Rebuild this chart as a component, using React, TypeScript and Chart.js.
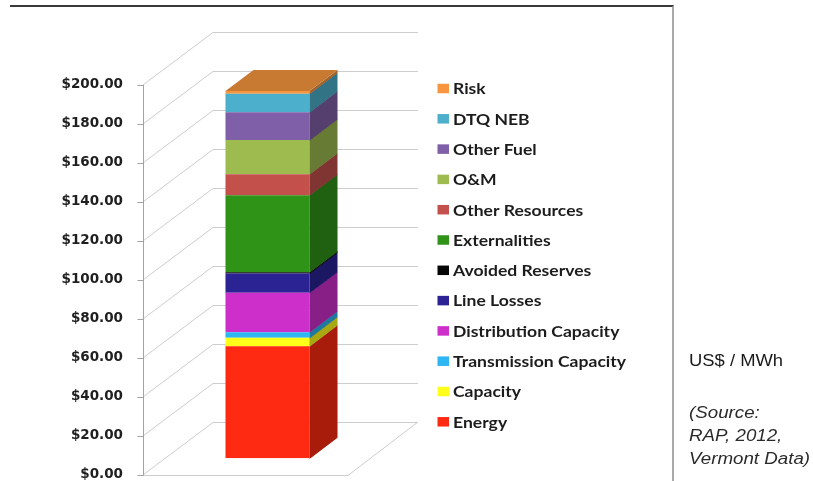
import React, { useEffect, useRef } from 'react';
import { Chart, registerables } from 'chart.js';

Chart.register(...registerables);

// Avoided-cost components, US$ / MWh (stacked bottom to top)
const categories = ['Vermont'];
const energy = [57.5];
const capacity = [4.3];
const transmissionCapacity = [2.9];
const distributionCapacity = [20.2];
const lineLosses = [9.9];
const avoidedReserves = [0.6];
const externalities = [39.5];
const otherResources = [10.8];
const operationsMaintenance = [17.5];
const otherFuel = [14.3];
const dtqNeb = [9.5];
const risk = [1.3];

const seriesLabels = [
  'Energy',
  'Capacity',
  'Transmission Capacity',
  'Distribution Capacity',
  'Line Losses',
  'Avoided Reserves',
  'Externalities',
  'Other Resources',
  'O&M',
  'Other Fuel',
  'DTQ NEB',
  'Risk',
];
const seriesValues = [
  energy,
  capacity,
  transmissionCapacity,
  distributionCapacity,
  lineLosses,
  avoidedReserves,
  externalities,
  otherResources,
  operationsMaintenance,
  otherFuel,
  dtqNeb,
  risk,
];

// value axis
const yMin = 0;
const yMax = 200;
const yStep = 20;

const seriesColors = [
  '#FF2A12',
  '#FFFF1A',
  '#2DB6F2',
  '#CD2FCB',
  '#2B2394',
  '#050505',
  '#2F9318',
  '#C4504C',
  '#9DBB4F',
  '#7F5FA8',
  '#4CAFCB',
  '#F7963F',
];

// oblique 3-D projection of the plot box
const WALL_DX = 70; // horizontal run of the floor depth
const WALL_DY = 53; // vertical rise of the floor depth
const BAR_Z0 = 0.315; // depth of the column's front face (0 = front, 1 = back wall)
const BAR_Z1 = 0.715; // depth of the column's back face
const GRID_COLOR = '#cdcdcd';
const AXIS_COLOR = '#a3a3a3';

function shade(hex: string, f: number): string {
  const n = parseInt(hex.slice(1), 16);
  const r = Math.round(((n >> 16) & 255) * f);
  const g = Math.round(((n >> 8) & 255) * f);
  const b = Math.round((n & 255) * f);
  return `rgb(${r},${g},${b})`;
}

function polyline(ctx: CanvasRenderingContext2D, pts: number[][]) {
  ctx.beginPath();
  ctx.moveTo(pts[0][0], pts[0][1]);
  for (let i = 1; i < pts.length; i++) ctx.lineTo(pts[i][0], pts[i][1]);
  ctx.stroke();
}

function fillPoly(ctx: CanvasRenderingContext2D, pts: number[][]) {
  ctx.beginPath();
  ctx.moveTo(pts[0][0], pts[0][1]);
  for (let i = 1; i < pts.length; i++) ctx.lineTo(pts[i][0], pts[i][1]);
  ctx.closePath();
  ctx.fill();
}

const box3d = {
  id: 'box3d',
  beforeDatasetsDraw(chart: any) {
    const { ctx, chartArea } = chart;
    const ys = chart.scales.y;
    const L = chartArea.left;
    const R = chartArea.right;
    const P = (x: number, v: number, z: number) => [
      x + (z - BAR_Z0) * WALL_DX,
      ys.getPixelForValue(v) - (z - BAR_Z0) * WALL_DY,
    ];
    ctx.save();
    ctx.lineWidth = 1;
    ctx.strokeStyle = GRID_COLOR;
    const values: number[] = ys.ticks.map((t: any) => t.value);
    for (const v of values) {
      const a = P(L, v, 0);
      const b = P(L, v, 1);
      const c = P(R, v, 1);
      const yb = Math.round(b[1]) + 0.5;
      polyline(ctx, [a, [b[0], yb], [c[0], yb]]);
    }
    // floor: front and right edges
    const f0 = P(L, yMin, 0);
    const f1 = P(R, yMin, 0);
    const f2 = P(R, yMin, 1);
    const fy = Math.round(f0[1]) + 0.5;
    polyline(ctx, [[f0[0], fy], [f1[0], fy], f2]);
    // front value axis with tick marks
    ctx.strokeStyle = AXIS_COLOR;
    const ax = Math.round(f0[0]) + 0.5;
    const top = P(L, yMax, 0);
    polyline(ctx, [[ax, top[1]], [ax, fy]]);
    for (const v of values) {
      const p = P(L, v, 0);
      const ty = Math.round(p[1]) + 0.5;
      polyline(ctx, [[ax - 6, ty], [ax, ty]]);
    }
    ctx.restore();
  },
  afterDatasetsDraw(chart: any) {
    const { ctx } = chart;
    const bdx = (BAR_Z1 - BAR_Z0) * WALL_DX;
    const bdy = (BAR_Z1 - BAR_Z0) * WALL_DY;
    const datasets = chart.data.datasets;
    ctx.save();
    let topEl: any = null;
    let topColor = '';
    datasets.forEach((ds: any, i: number) => {
      const meta = chart.getDatasetMeta(i);
      if (meta.hidden) return;
      meta.data.forEach((el: any) => {
        const { x, y, base, width } = el.getProps(['x', 'y', 'base', 'width'], true);
        const right = x + width / 2;
        const t = Math.min(y, base);
        const b = Math.max(y, base);
        if (b - t <= 0) return;
        ctx.fillStyle = shade(ds.backgroundColor, 0.66);
        fillPoly(ctx, [
          [right, t],
          [right + bdx, t - bdy],
          [right + bdx, b - bdy + 0.6],
          [right, b + 0.6],
        ]);
        topEl = { x, y: t, width };
        topColor = ds.backgroundColor;
      });
    });
    if (topEl) {
      const left = topEl.x - topEl.width / 2;
      const right = topEl.x + topEl.width / 2;
      ctx.fillStyle = shade(topColor, 0.81);
      fillPoly(ctx, [
        [left, topEl.y],
        [left + bdx, topEl.y - bdy],
        [right + bdx, topEl.y - bdy],
        [right, topEl.y],
      ]);
    }
    ctx.restore();
  },
  afterDraw(chart: any) {
    // legend, top series first
    const { ctx } = chart;
    const datasets = chart.data.datasets;
    const n = datasets.length;
    ctx.save();
    for (let r = 0; r < n; r++) {
      const ds = datasets[n - 1 - r];
      const yc = 88.5 + r * 30.3;
      ctx.fillStyle = ds.backgroundColor;
      ctx.fillRect(437.5, yc - 4.75, 11.5, 9.5);
      ctx.save();
      ctx.translate(453, yc);
      ctx.scale(1.17, 1);
      ctx.font = 'bold 15px Lato';
      ctx.fillStyle = '#1c1c1c';
      ctx.textBaseline = 'middle';
      ctx.textAlign = 'left';
      ctx.fillText(ds.label, 0, 1);
      ctx.restore();
    }
    ctx.restore();
  },
};

export default function App() {
  const canvasRef = useRef<HTMLCanvasElement>(null);

  useEffect(() => {
    const canvas = canvasRef.current;
    if (!canvas) return;
    const chart = new Chart(canvas, {
      type: 'bar',
      data: {
        labels: categories,
        datasets: seriesValues.map((data, i) => ({
          label: seriesLabels[i],
          data,
          backgroundColor: seriesColors[i],
          borderWidth: 0,
          barPercentage: 0.41,
          categoryPercentage: 1,
        })),
      },
      options: {
        responsive: false,
        animation: false,
        devicePixelRatio: 1,
        layout: { padding: { left: 0, top: 68.3, right: 443, bottom: 22.7 } },
        scales: {
          x: { display: false, stacked: true },
          y: {
            stacked: true,
            min: yMin,
            max: yMax,
            // labels sit 42px left of the column plane (front wall position)
            grid: { display: false, drawTicks: true, tickLength: 42 },
            border: { display: false },
            ticks: {
              stepSize: yStep,
              padding: 0,
              labelOffset: BAR_Z0 * WALL_DY,
              color: '#1f1f1f',
              font: { family: 'DejaVu Sans', weight: 'bold', size: 13.5 },
              callback: (v: any) => '$' + Number(v).toFixed(2),
            },
            afterFit: (scale: any) => {
              scale.width = 165;
            },
          },
        },
        plugins: {
          legend: { display: false },
          tooltip: { enabled: false },
        },
      },
      plugins: [box3d],
    } as any);
    return () => chart.destroy();
  }, []);

  return (
    <div
      style={{
        position: 'fixed',
        left: 0,
        top: 0,
        width: 813,
        height: 481,
        overflow: 'hidden',
        background: '#ffffff',
      }}
    >
      <div
        style={{
          position: 'absolute',
          left: 10,
          top: 5,
          width: 662,
          height: 500,
          borderTop: '2px solid #3a3a3a',
          borderRight: '2px solid #a9a9a9',
        }}
      />
      <canvas
        ref={canvasRef}
        width={813}
        height={481}
        style={{ position: 'absolute', left: 0, top: 0, width: 813, height: 481 }}
      />
      <div
        style={{
          position: 'absolute',
          left: 689,
          top: 353,
          fontFamily: '"Liberation Sans", Arial, sans-serif',
          fontSize: 16,
          lineHeight: '16px',
          color: '#1a1a1a',
          whiteSpace: 'nowrap',
          transform: 'scaleX(1.15)',
          transformOrigin: 'left top',
        }}
      >
        US$ / MWh
      </div>
      <div
        style={{
          position: 'absolute',
          left: 689,
          top: 401,
          fontFamily: '"Liberation Sans", Arial, sans-serif',
          fontStyle: 'italic',
          fontSize: 16,
          lineHeight: '23px',
          color: '#2a2a2a',
          whiteSpace: 'nowrap',
          transform: 'scaleX(1.17)',
          transformOrigin: 'left top',
        }}
      >
        <div>(Source:</div>
        <div>RAP, 2012,</div>
        <div>Vermont Data)</div>
      </div>
    </div>
  );
}
